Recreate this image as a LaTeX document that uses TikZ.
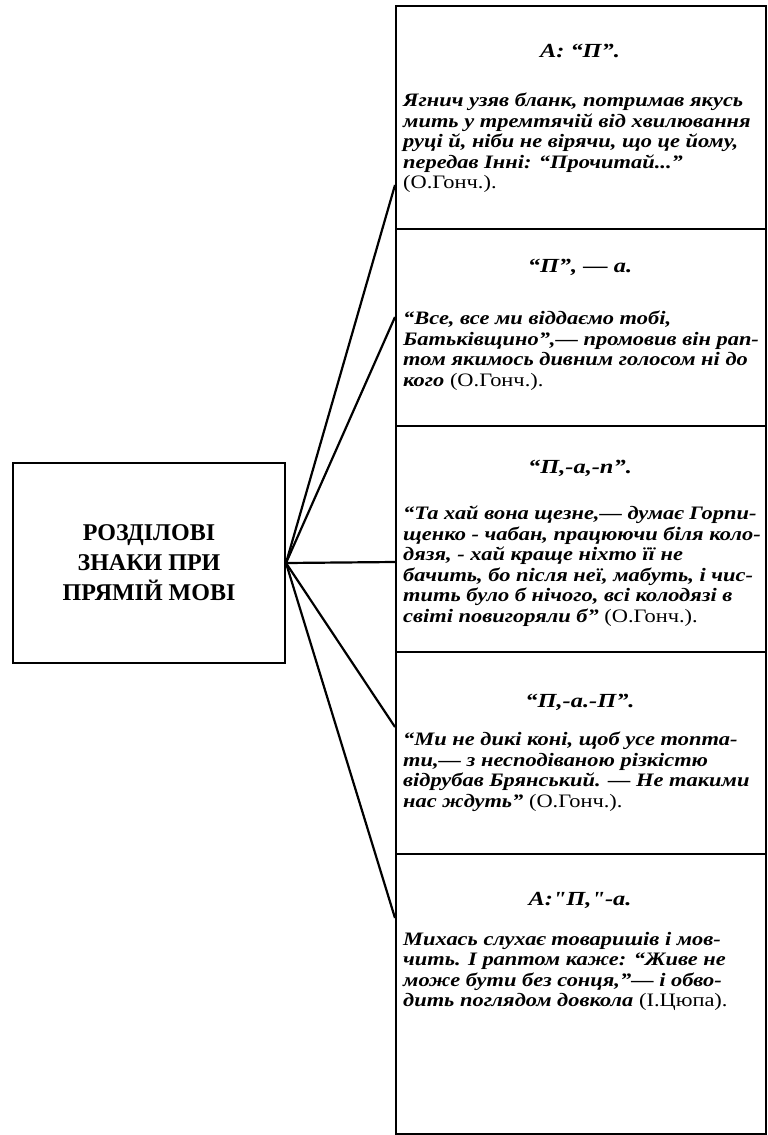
\documentclass[tikz,border=0pt]{standalone}
\usepackage{fontspec}
\setmainfont{Liberation Serif}
\newfontfamily\widefont[FakeStretch=1.18]{Liberation Serif}
\newfontfamily\headfont[FakeStretch=1.22]{Liberation Serif}
\newcommand\srcref[1]{{\upshape\mdseries #1}}
\begin{document}
\begin{tikzpicture}[x=1pt,y=-1pt,
  frame/.style={draw, line width=2pt, inner sep=0pt},
  conn/.style={line width=2.2pt},
  head/.style={font=\headfont\fontsize{20}{24}\selectfont\bfseries\itshape, anchor=center, inner sep=0pt},
  body/.style={font=\widefont\fontsize{19}{20.5}\selectfont\bfseries\itshape, align=left, anchor=north west, inner sep=0pt}]
\useasboundingbox (0,0) rectangle (768,1135);
\node[frame, minimum width=272pt, minimum height=200pt, anchor=north west,
      font=\fontsize{24}{30}\selectfont\bfseries, align=center] (L) at (12,462)
      {РОЗДІЛОВІ\\ЗНАКИ ПРИ\\ПРЯМІЙ МОВІ};
\node[frame, minimum width=370pt, minimum height=223pt, anchor=north west] (B1) at (395,5) {};
\node[frame, minimum width=370pt, minimum height=197pt, anchor=north west] (B2) at (395,228) {};
\node[frame, minimum width=370pt, minimum height=226pt, anchor=north west] (B3) at (395,425) {};
\node[frame, minimum width=370pt, minimum height=202pt, anchor=north west] (B4) at (395,651) {};
\node[frame, minimum width=370pt, minimum height=280pt, anchor=north west] (B5) at (395,853) {};
\node[head] (H1) at (580,51) {А: “П”.};
\node[body] (T1) at (403,93) {Ягнич узяв бланк, потримав якусь\\мить у тремтячій від хвилювання\\руці й, ніби не вірячи, що це йому,\\передав Інні: “Прочитай...”\\\srcref{(О.Гонч.).}};
\node[head] (H2) at (580,267) {“П”, — а.};
\node[body] (T2) at (403,311) {“Все, все ми віддаємо тобі,\\Батьківщино”,— промовив він рап-\\том якимось дивним голосом ні до\\кого \srcref{(О.Гонч.).}};
\node[head] (H3) at (580,468) {“П,-а,-п”.};
\node[body] (T3) at (403,506) {“Та хай вона щезне,— думає Горпи-\\щенко - чабан, працюючи біля коло-\\дязя, - хай краще ніхто її не\\бачить, бо після неї, мабуть, і чис-\\тить було б нічого, всі колодязі в\\світі повигоряли б” \srcref{(О.Гонч.).}};
\node[head] (H4) at (580,702) {“П,-а.-П”.};
\node[body] (T4) at (403,732) {“Ми не дикі коні, щоб усе топта-\\ти,— з несподіваною різкістю\\відрубав Брянський. — Не такими\\нас ждуть” \srcref{(О.Гонч.).}};
\node[head] (H5) at (580,900) {А:"П,"-а.};
\node[body] (T5) at (403,932) {Михась слухає товаришів і мов-\\чить. І раптом каже: “Живе не\\може бути без сонця,”— і обво-\\дить поглядом довкола \srcref{(І.Цюпа).}};
\coordinate (e1) at (395,185);
\coordinate (e2) at (395,317);
\coordinate (e3) at (395,562);
\coordinate (e4) at (395,727);
\coordinate (e5) at (395,918);
\foreach \e in {e1,e2,e3,e4,e5} \draw[conn] (L.east) -- (\e);
\end{tikzpicture}
\end{document}
